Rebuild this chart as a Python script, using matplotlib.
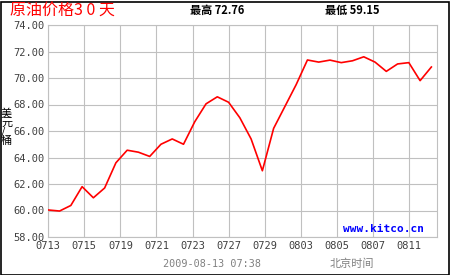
import matplotlib
matplotlib.use("Agg")
import matplotlib.pyplot as plt
from matplotlib.patches import Rectangle

# ── data ──────────────────────────────────────────────────────────────────────
prices = [60.04, 59.96, 60.38, 61.80, 60.96, 61.70, 63.60, 64.55, 64.40, 64.08,
          65.00, 65.40, 65.00, 66.70, 68.05, 68.58, 68.17, 67.00, 65.40, 63.00,
          66.20, 67.85, 69.50, 71.36, 71.20, 71.35, 71.16, 71.30, 71.60, 71.20,
          70.50, 71.06, 71.16, 69.80, 70.83]
date_labels = ["0713", "0715", "0719", "0721", "0723", "0727",
               "0729", "0803", "0805", "0807", "0811"]
y_ticks = [58, 60, 62, 64, 66, 68, 70, 72, 74]
title = "原油价格3 0 天"
high_text = "最高 72.76"
low_text = "最低 59.15"
stamp = "2009-08-13 07:38"

cjk = ["Noto Sans CJK SC", "DejaVu Sans"]
mono = ["DejaVu Sans Mono", "Noto Sans CJK SC"]

fig = plt.figure(figsize=(4.5, 2.75), dpi=100)
fig.patch.set_facecolor("white")
ax = fig.add_axes([48.3 / 450, 1 - 237 / 275, (437 - 48.3) / 450, (237 - 25) / 275])

x = list(range(len(prices)))
ax.plot(x, prices, color="#ff0000", lw=1.2, zorder=3)

# tick spacing: one label every 36 px, data spacing is ~11.25 px
step = 36 / 11.25
ax.set_xlim(0, 34.5)
ax.set_ylim(58, 74)
ax.set_xticks([i * step for i in range(len(date_labels))])
ax.set_xticklabels(date_labels)
ax.set_yticks(y_ticks)
ax.set_yticklabels([f"{v:.2f}" for v in y_ticks])
ax.tick_params(length=0, pad=3, labelsize=7.5, colors="#404040")
for lab in ax.get_xticklabels() + ax.get_yticklabels():
    lab.set_family(mono)
ax.grid(True, color="#c0c0c0", lw=0.8)
ax.set_axisbelow(True)
for s in ax.spines.values():
    s.set_color("#c0c0c0")
    s.set_linewidth(0.8)

# ── header / footer texts ─────────────────────────────────────────────────────
fig.text(10 / 450, 1 - 11 / 275, title, color="#ff0000", fontsize=11.5,
         family=cjk, va="center", ha="left")
fig.text(190 / 450, 1 - 10 / 275, high_text, color="black", fontsize=8,
         family=cjk, fontweight="bold", va="center", ha="left")
fig.text(325 / 450, 1 - 10 / 275, low_text, color="black", fontsize=8,
         family=cjk, fontweight="bold", va="center", ha="left")

fig.text(1 / 450, 1 - 127 / 275, "美\n元\n/\n桶", color="black", fontsize=8,
         family=cjk, va="center", ha="left", linespacing=0.85)

ax.text(424 / 450, 1 - 229 / 275, "www.kitco.cn", color="#0000ff", fontsize=8,
        family=mono, fontweight="bold", va="center", ha="right",
        transform=fig.transFigure)

fig.text(163 / 450, 1 - 264 / 275, stamp, color="#808080", fontsize=7.3,
         family=mono, va="center", ha="left")
fig.text(330 / 450, 1 - 264 / 275, "北京时间", color="#808080", fontsize=8,
         family=cjk, va="center", ha="left")

# black frame around the whole picture
fig.patches.append(Rectangle((0.5 / 450, 0.5 / 275), 448 / 450, 273 / 275,
                             transform=fig.transFigure, fill=False,
                             edgecolor="black", lw=1.2))

fig.savefig("out.png", dpi=100)
